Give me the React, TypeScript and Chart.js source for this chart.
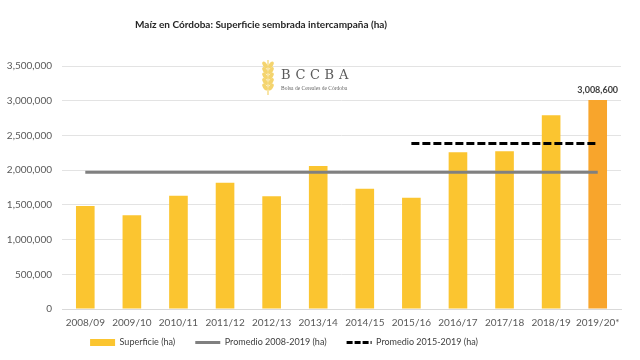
import React, { useEffect, useRef } from "react";
import { Chart, registerables } from "chart.js";

Chart.register(...registerables);

const categories = ["2008/09", "2009/10", "2010/11", "2011/12", "2012/13", "2013/14", "2014/15", "2015/16", "2016/17", "2017/18", "2018/19", "2019/20*"];
const superficie = [1485000, 1350000, 1630000, 1818000, 1624000, 2058000, 1731000, 1601000, 2256000, 2271000, 2791000, 3008600];
const promedio2008 = [1970000, 1970000, 1970000, 1970000, 1970000, 1970000, 1970000, 1970000, 1970000, 1970000, 1970000, 1970000];
const promedio2015 = [null, null, null, null, null, null, null, 2383000, 2383000, 2383000, 2383000, 2383000];
const yTicks = [0, 500000, 1000000, 1500000, 2000000, 2500000, 3000000, 3500000];
const highlightLabel = "3,008,600";

const YELLOW = "#FBC530";
const ORANGE = "#F8A52C";
const GRAY = "#808080";
const FONT = "Lato, 'Open Sans', sans-serif";

const fmt = (v: number) => v.toLocaleString("en-US");

const labelPlugin = {
  id: "labelPlugin",
  afterDatasetsDraw(chart: any) {
    const meta = chart.getDatasetMeta(0);
    const el = meta.data[superficie.length - 1];
    if (!el) return;
    const ctx = chart.ctx;
    ctx.save();
    ctx.font = `bold 9px ${FONT}`;
    ctx.fillStyle = "#404040";
    ctx.textAlign = "center";
    ctx.textBaseline = "bottom";
    ctx.fillText(highlightLabel, el.x, el.y - 6);
    ctx.restore();
  },
};

const shiftPlugin = {
  id: "shiftPlugin",
  afterLayout(chart: any) {
    const tb = chart.titleBlock;
    if (tb) {
      const d = 261 - (tb.left + tb.right) / 2;
      tb.left += d;
      tb.right += d;
    }
    const lg = chart.legend;
    if (lg) {
      const d = 284 - (lg.left + lg.right) / 2;
      lg.left += d;
      lg.right += d;
      const dy = 318 - lg.top;
      lg.top += dy;
      lg.bottom += dy;
    }
  },
};

const logoPlugin = {
  id: "logoPlugin",
  afterDraw(chart: any) {
    const ctx = chart.ctx;
    ctx.save();
    ctx.fillStyle = "#F4D46E";
    const cx = 268;
    for (let i = 0; i < 5; i++) {
      const y = 65 + i * 5.5;
      ctx.beginPath();
      ctx.ellipse(cx - 3, y, 2, 3.8, -0.6, 0, Math.PI * 2);
      ctx.fill();
      ctx.beginPath();
      ctx.ellipse(cx + 3, y, 2, 3.8, 0.6, 0, Math.PI * 2);
      ctx.fill();
    }
    ctx.fillRect(cx - 0.6, 60, 1.2, 35);
    ctx.fillStyle = "#5a5a5a";
    ctx.font = "13px 'DejaVu Serif', 'Liberation Serif', serif";
    ctx.textBaseline = "alphabetic";
    ctx.textAlign = "left";
    "BCCBA".split("").forEach((l, i) => ctx.fillText(l, 281 + i * 14.5, 79));
    ctx.font = "5.5px 'Liberation Serif', serif";
    ctx.fillStyle = "#666";
    ctx.fillText("Bolsa de Cereales de Córdoba", 281, 90);
    ctx.restore();
  },
};

export default function App() {
  const ref = useRef<HTMLCanvasElement>(null);
  useEffect(() => {
    document.body.style.margin = "0";
    const canvas = ref.current;
    if (!canvas) return;
    const chart = new Chart(canvas, {
      type: "bar",
      data: {
        labels: categories,
        datasets: [
          {
            type: "bar",
            label: "Superficie (ha)",
            data: superficie,
            backgroundColor: (c: any) => (c.dataIndex === superficie.length - 1 ? ORANGE : YELLOW),
            borderWidth: 0,
            barPercentage: 0.4,
            categoryPercentage: 1,
            order: 1,
          },
          {
            type: "line",
            label: "Promedio 2008-2019 (ha)",
            data: promedio2008,
            borderColor: GRAY,
            backgroundColor: GRAY,
            borderWidth: 3,
            pointRadius: 0,
            order: 0,
          },
          {
            type: "line",
            label: "Promedio 2015-2019 (ha)",
            data: promedio2015 as any,
            borderColor: "#000",
            backgroundColor: "#000",
            borderWidth: 3,
            borderDash: [8, 3],
            pointRadius: 0,
            spanGaps: false,
            order: 0,
          },
        ],
      },
      options: {
        responsive: false,
        animation: false,
        layout: { padding: { left: 5, right: 19, top: 0, bottom: -16 } },
        plugins: {
          title: {
            display: true,
            text: "Maíz en Córdoba: Superficie sembrada intercampaña (ha)",
            color: "#262626",
            font: { family: FONT, size: 10, weight: "bold" },
            padding: { top: 19, bottom: 35 },
          },
          tooltip: { enabled: false },
          legend: {
            position: "bottom",
            labels: {
              color: "#404040",
              font: { family: FONT, size: 9 },
              usePointStyle: true,
              pointStyleWidth: 25,
              boxHeight: 7,
              padding: 20,
              sort: (a: any, b: any) => a.datasetIndex - b.datasetIndex,
              generateLabels: (chart: any) => {
                const items = Chart.defaults.plugins.legend.labels.generateLabels(chart);
                return items.map((it: any) => {
                  if (it.datasetIndex === 0) {
                    return { ...it, pointStyle: "rect", fillStyle: YELLOW, strokeStyle: YELLOW, lineWidth: 0 };
                  }
                  if (it.datasetIndex === 1) {
                    return { ...it, pointStyle: "line", strokeStyle: GRAY, lineWidth: 3, lineDash: [] };
                  }
                  return { ...it, pointStyle: "line", strokeStyle: "#000", lineWidth: 3, lineDash: [6, 2] };
                });
              },
            },
          },
        },
        scales: {
          x: {
            grid: { display: false, drawTicks: false },
            border: { display: true, color: "#d9d9d9" },
            ticks: { color: "#595959", font: { family: FONT, size: 10 }, maxRotation: 0, autoSkip: false, padding: 8 },
          },
          y: {
            min: 0,
            max: 3500000,
            afterBuildTicks: (axis: any) => {
              axis.ticks = yTicks.map((v) => ({ value: v }));
            },
            afterFit: (scale: any) => {
              scale.width = 57;
            },
            grid: { color: "#e3e3e3", drawTicks: false },
            border: { display: false },
            ticks: {
              color: "#595959",
              font: { family: FONT, size: 10 },
              padding: 10,
              callback: (v: any) => fmt(Number(v)),
            },
          },
        },
      },
      plugins: [labelPlugin, logoPlugin, shiftPlugin],
    });
    return () => chart.destroy();
  }, []);
  return (
    <div style={{ width: 640, height: 360, background: "#fff" }}>
      <canvas ref={ref} width={640} height={360} />
    </div>
  );
}
